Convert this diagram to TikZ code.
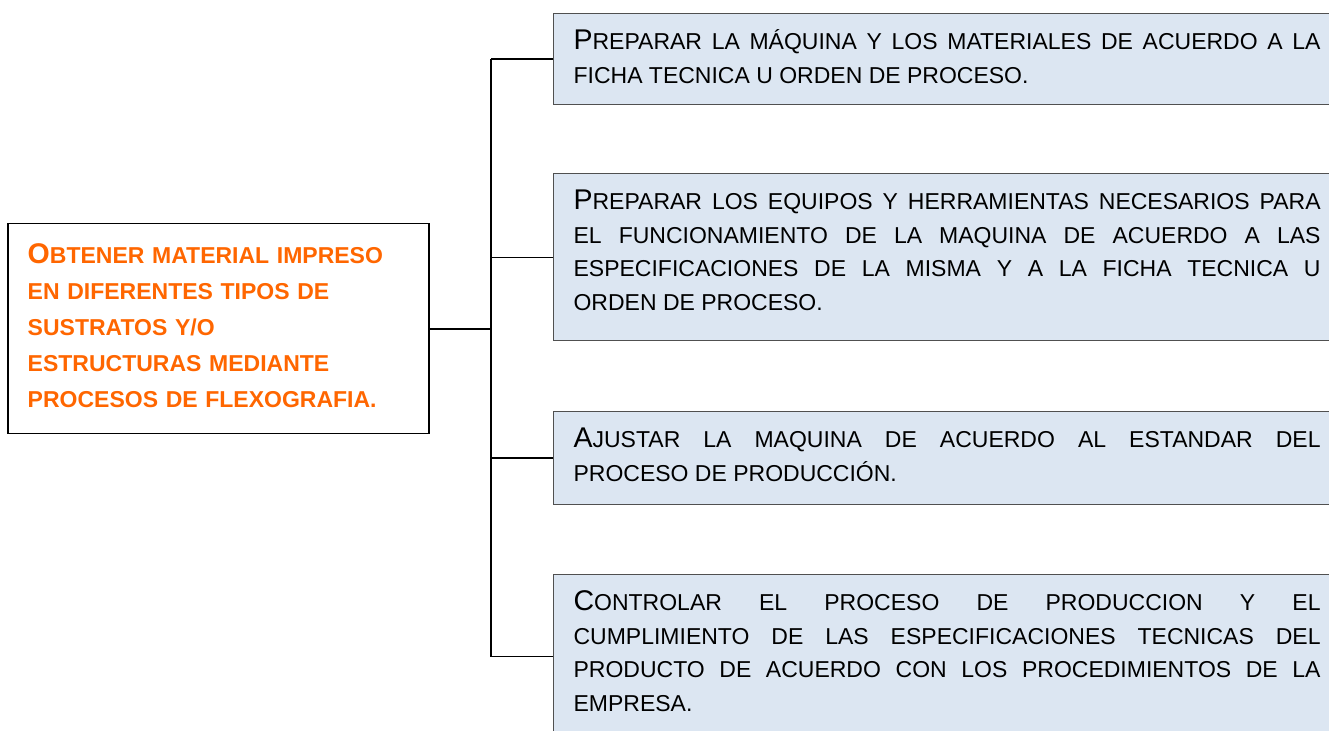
\documentclass[tikz,border=0pt]{standalone}
\usepackage{fontspec}
\setmainfont{Liberation Sans}
\usepackage{tikz}
\definecolor{flexorange}{RGB}{255,102,0}
\definecolor{taskblue}{RGB}{220,230,242}
\definecolor{taskline}{RGB}{80,80,80}
\newcommand\initcap[1]{{\fontsize{14.25pt}{16.75pt}\selectfont #1}}
\newcommand\taskfont{\fontsize{11.5pt}{16.75pt}\selectfont\hyphenpenalty=10000\relax\tolerance=10000\relax}
\begin{document}
\begin{tikzpicture}[x=0.5pt,y=-0.5pt,
    goal/.style={draw=black,line width=0.75pt,anchor=north west,inner xsep=10pt,inner ysep=0pt,
      text width=190.5pt,align=left,text height=20pt,text depth=85pt,text=flexorange,
      font=\bfseries\fontsize{11.5pt}{18pt}\selectfont},
    task/.style={draw=taskline,line width=0.6pt,fill=taskblue,anchor=north west,inner xsep=10pt,
      inner ysep=0pt,text width=373.5pt,align=justify,text height=18pt,font=\taskfont}]
    \useasboundingbox (0,0) rectangle (1329,731);
    \node [goal] (obj) at (7,223) {\initcap{O}BTENER MATERIAL IMPRESO\\ EN DIFERENTES TIPOS DE\\
      SUSTRATOS Y/O\\ ESTRUCTURAS MEDIANTE\\ PROCESOS DE FLEXOGRAFIA.};
    \node [task,text depth=27.35pt] (t1) at (553,13)
      {\initcap{P}REPARAR LA MÁQUINA Y LOS MATERIALES DE ACUERDO A LA\linebreak
       FICHA TECNICA U ORDEN DE PROCESO.};
    \node [task,text depth=65.6pt] (t2) at (553,173)
      {\initcap{P}REPARAR LOS EQUIPOS Y HERRAMIENTAS NECESARIOS PARA\linebreak
       EL FUNCIONAMIENTO DE LA MAQUINA DE ACUERDO A LAS\linebreak
       ESPECIFICACIONES DE LA MISMA Y A LA FICHA TECNICA U\linebreak
       ORDEN DE PROCESO.};
    \node [task,text depth=28.5pt] (t3) at (553,411)
      {\initcap{A}JUSTAR LA MAQUINA DE ACUERDO AL ESTANDAR DEL\linebreak
       PROCESO DE PRODUCCIÓN.};
    \node [task,text depth=64pt] (t4) at (553,574)
      {\initcap{C}ONTROLAR EL PROCESO DE PRODUCCION Y EL\linebreak
       CUMPLIMIENTO DE LAS ESPECIFICACIONES TECNICAS DEL\linebreak
       PRODUCTO DE ACUERDO CON LOS PROCEDIMIENTOS DE LA\linebreak
       EMPRESA.};
    \coordinate (spine) at (491,0);
    \draw [line width=0.85pt] (obj.east) -- (obj.east -| spine);
    \draw [line width=1pt] (t1.west -| spine) -- (t4.west -| spine);
    \foreach \t in {t1,t2,t3,t4}
      \draw [line width=0.65pt] (\t.west) -- (\t.west -| spine);
\end{tikzpicture}
\end{document}
